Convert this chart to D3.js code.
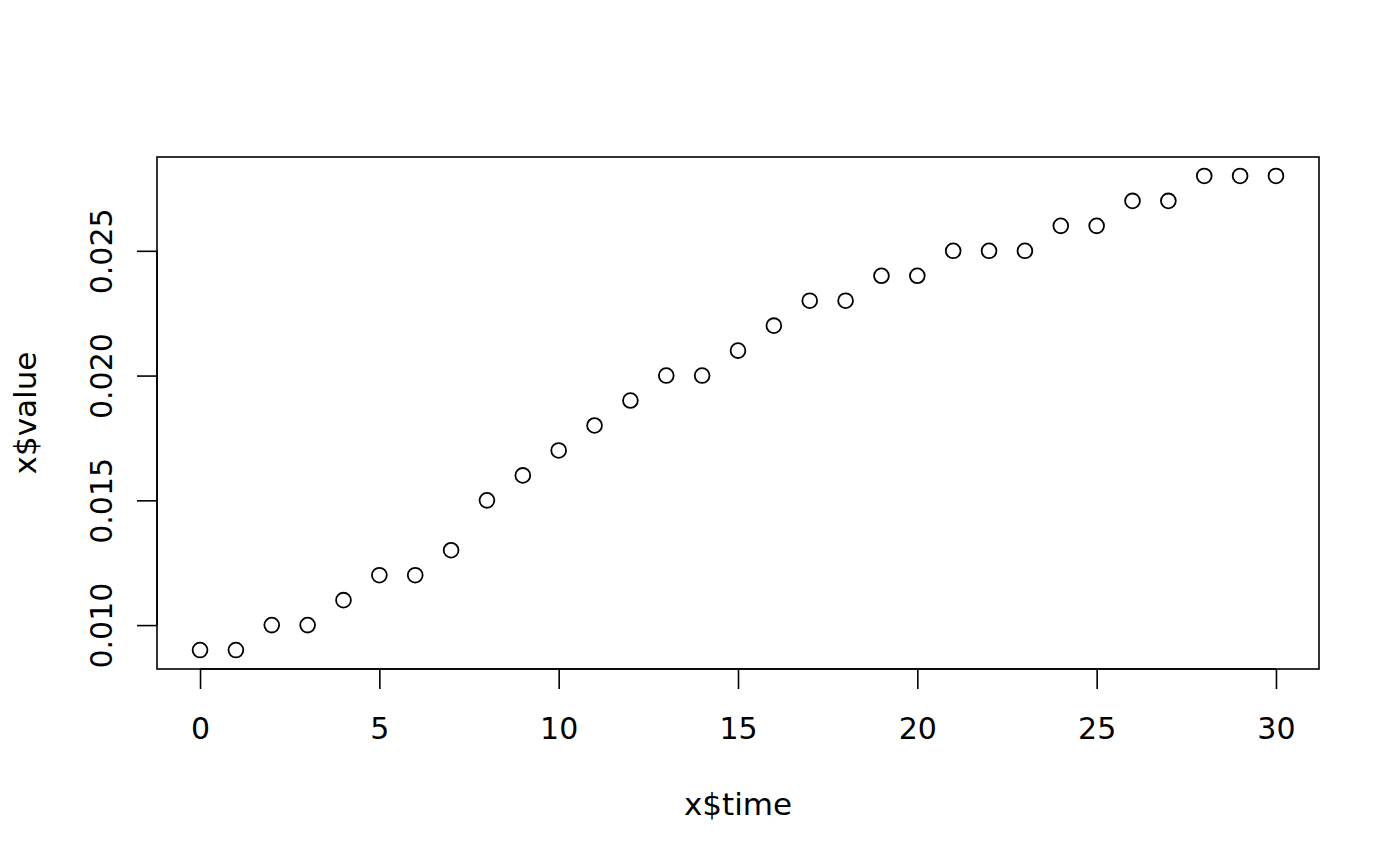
<!DOCTYPE html>
<html><head><meta charset="utf-8">
<script src="https://cdn.jsdelivr.net/npm/d3@7"></script>
<style>body{margin:0;background:#fff}svg{display:block}text{font-family:"DejaVu Sans",sans-serif;fill:#000}</style>
</head><body>
<script>
const times = [0,1,2,3,4,5,6,7,8,9,10,11,12,13,14,15,16,17,18,19,20,21,22,23,24,25,26,27,28,29,30];
const values = [0.009,0.009,0.010,0.010,0.011,0.012,0.012,0.013,0.015,0.016,0.017,0.018,0.019,0.020,0.020,0.021,0.022,0.023,0.023,0.024,0.024,0.025,0.025,0.025,0.026,0.026,0.027,0.027,0.028,0.028,0.028];
const xTicks = [0,5,10,15,20,25,30];
const yTicks = [0.010,0.015,0.020,0.025];
const xLabel = "x$time", yLabel = "x$value";

const W=1400,H=866;
const L=157,R=1319,T=157,B=669;
const FS=30, FT=31;
const svg=d3.select("body").append("svg").attr("width",W).attr("height",H);
const xr=d3.extent(times), yr=d3.extent(values);
const xp=(xr[1]-xr[0])*0.04, yp=(yr[1]-yr[0])*0.04;
const x=d3.scaleLinear().domain([xr[0]-xp,xr[1]+xp]).range([L,R]);
const y=d3.scaleLinear().domain([yr[0]-yp,yr[1]+yp]).range([B,T]);

svg.append("rect").attr("x",L).attr("y",T).attr("width",R-L).attr("height",B-T)
  .attr("fill","none").attr("stroke","#000").attr("stroke-width",1.6);

const xa=svg.append("g").attr("transform",`translate(0,${B})`)
  .call(d3.axisBottom(x).tickValues(xTicks).tickSize(20).tickFormat(d3.format("d")));
xa.select(".domain").attr("d",`M${x(xTicks[0])},0H${x(xTicks[xTicks.length-1])}`).attr("stroke-width",1.6);
xa.selectAll(".tick line").attr("stroke-width",1.6);
xa.selectAll("text").attr("font-size",FS).attr("font-family","DejaVu Sans")
  .attr("y",70).attr("dy",null);

const ya=svg.append("g").attr("transform",`translate(${L},0)`)
  .call(d3.axisLeft(y).tickValues(yTicks).tickSize(20).tickFormat(d3.format(".3f")));
ya.select(".domain").attr("d",`M0,${y(yTicks[0])}V${y(yTicks[yTicks.length-1])}`).attr("stroke-width",1.6);
ya.selectAll(".tick line").attr("stroke-width",1.6);
ya.selectAll("text").attr("font-size",FS).attr("font-family","DejaVu Sans")
  .attr("x",null).attr("dy",null).attr("text-anchor","middle")
  .attr("transform","translate(-45,0) rotate(-90)");

svg.append("g").selectAll("circle").data(times).join("circle")
  .attr("cx",(d)=>x(d)).attr("cy",(d,i)=>y(values[i])).attr("r",7.4)
  .attr("fill","none").attr("stroke","#000").attr("stroke-width",1.8);

svg.append("text").attr("x",(L+R)/2).attr("y",815).attr("text-anchor","middle").attr("font-size",FT).text(xLabel);
svg.append("text").attr("transform",`translate(36,${(T+B)/2}) rotate(-90)`).attr("text-anchor","middle").attr("font-size",FT).text(yLabel);
</script>
</body></html>
